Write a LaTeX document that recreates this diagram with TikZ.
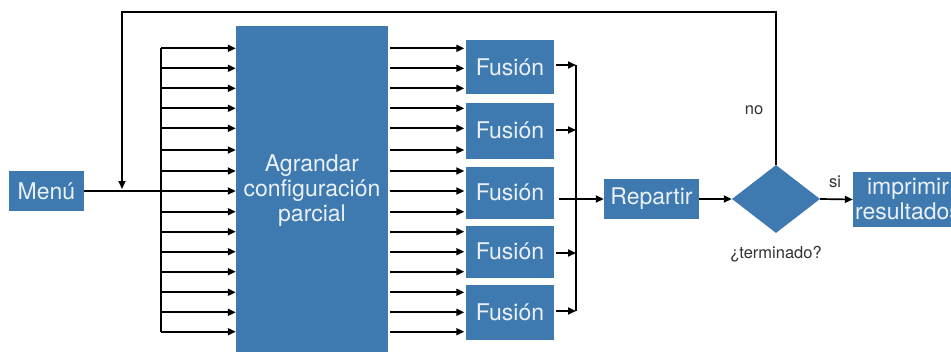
\documentclass[tikz,border=0pt]{standalone}
\usepackage{fontspec}
\setmainfont{TeX Gyre Heros}
\usetikzlibrary{arrows.meta,shapes.geometric}
\definecolor{boxblue}{RGB}{62,122,176}
\definecolor{boxtext}{RGB}{234,240,247}
\definecolor{lbltext}{RGB}{50,50,50}
\tikzset{
  box/.style={fill=boxblue, text=boxtext, inner sep=0pt, align=center,
    font=\fontsize{23}{25}\selectfont},
  arr/.style={-{Triangle[length=8pt,width=7pt]}, line width=1.7pt},
  wire/.style={line width=1.7pt},
  lbl/.style={text=lbltext, font=\fontsize{16.5}{18}\selectfont, inner sep=0pt}
}
\begin{document}
\begin{tikzpicture}[x=1pt,y=-1pt]
\useasboundingbox (0,0) rectangle (951,351);
\clip (0,0) rectangle (951,351);
\fill[white] (0,0) rectangle (951,351);

% boxes
\node[box, minimum width=75pt, minimum height=40pt] (menu) at (46.5,191) {Menú};
\node[box, minimum width=152pt, minimum height=334pt] (big) at (312,193) {};
\node[box] (bigtxt) at (312,191) {Agrandar\\configuración\\parcial};
\node[box, minimum width=88pt, minimum height=54pt] (f1) at (510,67) {Fusión};
\node[box, minimum width=88pt, minimum height=56pt] (f2) at (510,130.5) {Fusión};
\node[box, minimum width=88pt, minimum height=52pt] (f3) at (510,192.5) {Fusión};
\node[box, minimum width=88pt, minimum height=52pt] (f4) at (510,251.5) {Fusión};
\node[box, minimum width=88pt, minimum height=55pt] (f5) at (510,312.5) {Fusión};
\node[box, minimum width=95pt, minimum height=40pt] (rep) at (651.5,199) {Repartir};
\node[diamond, fill=boxblue, inner sep=0pt, minimum width=88pt, minimum height=68pt] (dia) at (776,199) {};
\node[box, minimum width=110pt, minimum height=55pt] (imp) at (908,199.5) {imprimir\\resultados};

% labels
\node[lbl] (no) at (754,110) {no};
\node[lbl] (term) at (776,254) {¿terminado?};
\node[lbl] (si) at (835,182) {si};

% input bus and arrows
\foreach \y [count=\i] in {48.3,68.3,88.3,108.3,128.3,150,171,191,211.7,231.7,251.7,271.7,292.3,312.3,331.7} {
  \coordinate (in\i) at (161,\y);
  \coordinate (out\i) at (390,\y);
  \draw[arr] (in\i) -- (big.west |- in\i);
  \draw[arr] (out\i) -- ([xshift=-1.5pt]f1.west |- out\i);
}
\draw[wire] (in1) -- (in15);
\draw[wire] (menu.east) -- (in8);

% collector
\coordinate (col) at (576,0);
\coordinate (c1) at (f1.east -| col);
\coordinate (c5) at (f5.east -| col);
\draw[wire] ([yshift=2pt]c1) -- ([yshift=1.5pt]c5);
\draw[arr] ([xshift=2pt,yshift=2pt]f1.east) -- ([yshift=2pt]c1);
\draw[arr] ([xshift=2pt,yshift=0.5pt]f2.east) -- ([yshift=0.5pt]f2.east -| col);
\draw[arr] ([xshift=2pt,yshift=-1.5pt]f4.east) -- ([yshift=-1.5pt]f4.east -| col);
\draw[arr] ([xshift=2pt,yshift=1.5pt]f5.east) -- ([yshift=1.5pt]c5);
\coordinate (m3) at (f3.east |- rep.west);
\draw[arr] ([xshift=5pt]m3) -- (rep.west);

% flow
\draw[arr] (rep.east) -- (dia.west);
\draw[arr] (dia.east) -- (imp.west);

% feedback
\coordinate (fbc) at (122,12);
\coordinate (fbend) at (122,189);
\draw[arr] (dia.north) |- (fbc) -- (fbend);
\end{tikzpicture}
\end{document}
